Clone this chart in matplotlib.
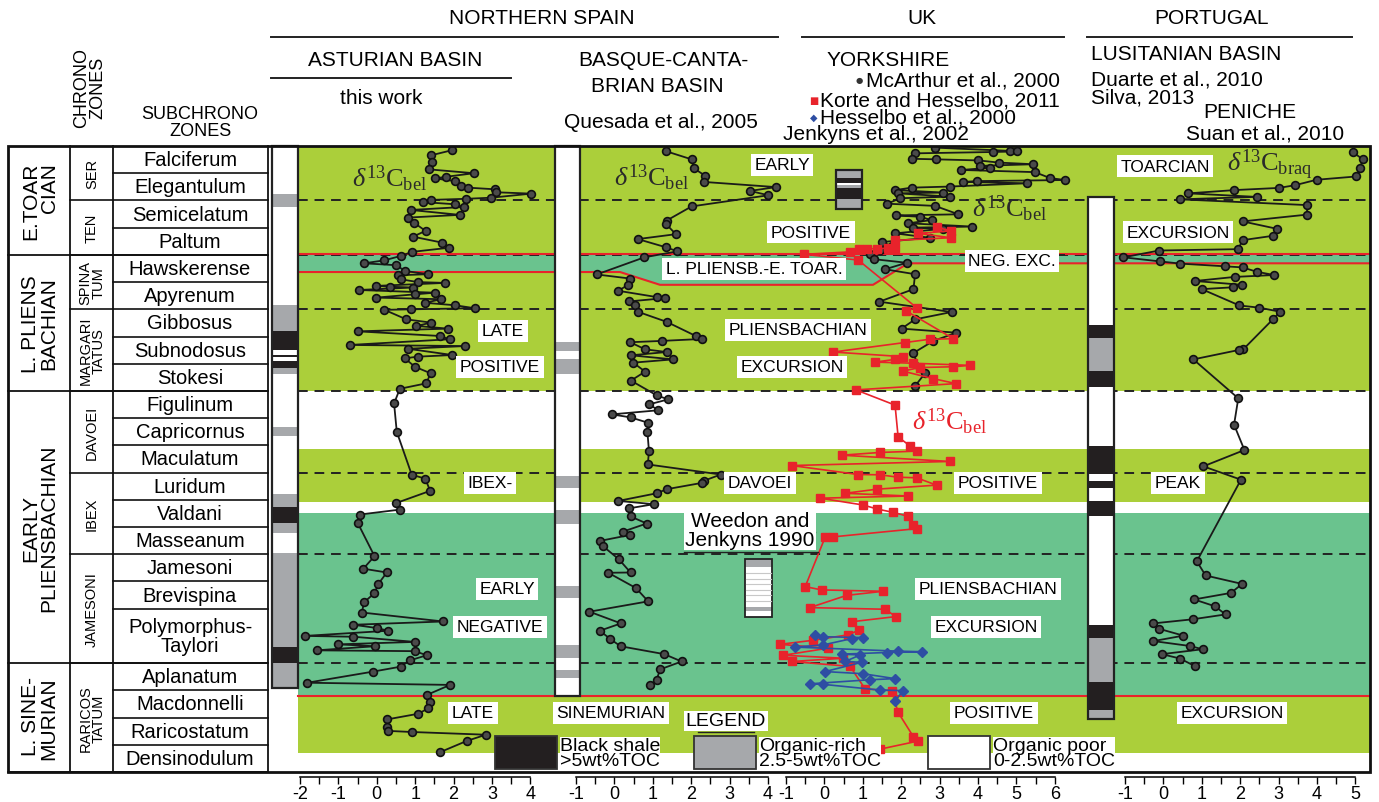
import numpy as np
import matplotlib
matplotlib.use('Agg')
import matplotlib.pyplot as plt
from matplotlib.patches import Rectangle, Polygon

plt.rcParams['axes.unicode_minus'] = False
plt.rcParams['mathtext.fontset'] = 'custom'
plt.rcParams['mathtext.rm'] = 'Liberation Serif'
plt.rcParams['mathtext.it'] = 'Liberation Serif:italic'

SANS = ['Liberation Sans', 'DejaVu Sans']
NARROW = ['Liberation Sans Narrow', 'Liberation Sans', 'DejaVu Sans']

# ---------------- biostratigraphy (zone units, top = 0) ----------------
zones = ['Falciferum', 'Elegantulum', 'Semicelatum', 'Paltum', 'Hawskerense', 'Apyrenum',
         'Gibbosus', 'Subnodosus', 'Stokesi', 'Figulinum', 'Capricornus', 'Maculatum',
         'Luridum', 'Valdani', 'Masseanum', 'Jamesoni', 'Brevispina', 'Polymorphus-\nTaylori',
         'Aplanatum', 'Macdonnelli', 'Raricostatum', 'Densinodulum']
zone_h = [1] * 17 + [2] + [1] * 4
subchrons = ['SER', 'TEN', 'SPINA\nTUM', 'MARGARI\nTATUS', 'DAVOEI', 'IBEX', 'JAMESONI', 'RARICOS\nTATUM']
subchron_h = [2, 2, 2, 3, 3, 3, 4, 4]
stages = ['E.TOAR\nCIAN', 'L. PLIENS\nBACHIAN', 'EARLY\nPLIENSBACHIAN', 'L. SINE-\nMURIAN']
stage_h = [4, 5, 10, 4]
dashed_levels = [2, 4, 6, 9, 12, 15, 19]

# ---------------- d13C series: level (zone units), value (permil) ----------------
ast_lvl = [0.15, 0.34, 0.59, 0.86, 1.00, 1.13, 1.19, 1.29, 1.47, 1.53, 1.59, 1.70, 1.75, 1.90, 1.94,
           1.98, 2.06, 2.14, 2.24, 2.35, 2.53, 2.63, 2.82, 3.12, 3.33, 3.55, 3.74, 3.89, 4.04, 4.20,
           4.31, 4.38, 4.59, 4.71, 4.75, 4.90, 5.00, 5.03, 5.14, 5.17, 5.20, 5.29, 5.39, 5.45, 5.57,
           5.63, 5.76, 5.85, 5.96, 6.00, 6.02, 6.37, 6.49, 6.61, 6.71, 6.81, 6.98, 7.10, 7.31, 7.35,
           7.45, 7.68, 7.74, 7.80, 8.11, 8.35, 8.72, 8.92, 9.46, 10.50, 12.08, 12.22, 12.67, 13.12,
           13.36, 13.54, 13.84, 15.07, 15.53, 15.67, 16.09, 16.43, 16.76, 17.14, 17.47, 17.59, 17.71,
           17.81, 18.00, 18.03, 18.22, 18.31, 18.38, 18.53, 18.56, 18.71, 18.90, 19.13, 19.31, 19.72,
           19.80, 20.17, 20.44, 20.66, 20.86, 21.07, 21.34, 21.49, 21.53, 21.63, 21.86, 22.27]
ast_val = [1.97, 1.42, 1.44, 1.37, 2.53, 1.81, 1.51, 2.03, 2.20, 2.37, 3.07, 3.11, 4.02, 2.98, 2.33,
           1.42, 1.20, 2.03, 2.26, 0.88, 2.16, 0.81, 0.97, 1.27, 0.94, 1.70, 1.87, 0.92, 0.62, 0.20,
           -0.33, 0.51, 0.73, 1.33, 0.55, 0.64, 1.07, 1.77, -0.01, 0.34, 0.94, -0.47, 1.51, 0.99, -0.01,
           1.68, 1.25, 2.03, 2.55, 0.90, 0.20, 0.77, 1.42, 1.03, 1.85, -0.49, 1.64, 1.90, -0.71, 2.29,
           0.81, 1.97, 1.07, 0.73, 0.99, 1.40, 1.29, 0.60, 0.45, 0.52, 0.91, 1.26, 1.39, 0.50,
           0.60, -0.44, -0.50, -0.06, -0.35, 0.26, 0.04, -0.06, -0.33, -0.39, 1.73, -0.61, 0.00,
           0.30, -1.87, -0.61, 0.99, -1.00, -0.05, -1.57, 0.99, 1.30, 0.86, 0.62, -0.09, -1.81,
           1.91, 1.30, 1.39, 1.34, 1.08, 0.26, 0.26, 0.30, 0.91, 2.84, 2.34, 1.65]

bas_lvl = [0.19, 0.49, 0.82, 1.09, 1.32, 1.51, 1.65, 1.81, 2.22, 2.74, 2.86, 3.24, 3.42, 3.72, 3.87,
           4.09, 4.72, 4.87, 5.10, 5.32, 5.55, 5.59, 5.71, 5.86, 6.09, 6.46, 6.98, 7.09, 7.16, 7.21,
           7.47, 7.57, 7.69, 7.84, 7.96, 8.29, 8.62, 9.16, 9.31, 9.49, 9.71, 9.86, 9.97, 10.17, 10.51,
           11.21, 11.70, 12.07, 12.30, 12.38, 12.61, 12.76, 13.04, 13.16, 13.31, 13.61, 13.87, 14.17,
           14.29, 14.51, 14.71, 15.19, 15.67, 15.68, 16.24, 16.73, 17.11, 17.54, 17.81, 18.11, 18.38,
           18.67, 18.94, 19.23, 19.61, 19.80]
bas_val = [1.34, 2.01, 2.07, 2.36, 2.33, 4.21, 3.53, 4.01, 2.01, 1.36, 1.34, 1.60, 0.61, 1.34, 1.64,
           0.78, -0.46, 0.41, 0.36, 0.10, 1.10, 1.32, 0.38, 0.54, 0.61, 1.36, 2.12, 2.27, 1.25, 0.41,
           0.80, 1.36, 0.43, 1.53, 0.49, 0.80, 0.43, 1.10, 1.40, 0.91, 1.14, -0.07, 0.42, 0.88, 0.86,
           0.90, 0.87, 2.77, 2.33, 2.27, 1.36, 1.10, 0.10, 1.03, 0.39, 0.42, 0.84, 0.22,
           0.41, -0.38, -0.29, 0.12, 0.42, -0.16, 0.56, 0.88, -0.65, 0.17, -0.38, -0.11, 0.16,
           1.30, 1.75, 1.19, 1.10, 0.93]

mca_lvl = [0.06, 0.18, 0.20, 0.22, 0.27, 0.47, 0.49, 0.53, 0.61, 0.67, 0.73, 0.80, 0.88, 0.96, 1.18,
           1.25, 1.29, 1.32, 1.37, 1.49, 1.53, 1.62, 1.71, 1.74, 1.86, 1.92, 2.12, 2.20, 2.51, 2.55,
           2.60, 2.72, 2.84, 2.96, 3.00, 3.04, 3.21, 3.37, 3.53, 3.67, 3.82, 3.98, 4.16, 4.29, 4.53,
           4.71, 5.26, 5.72, 6.10, 6.37, 6.71, 6.86, 7.16, 7.62, 8.14, 8.35, 8.82]
mca_val = [2.88, 4.83, 5.01, 4.40, 2.36, 2.27, 2.91, 4.01, 4.55, 5.44, 4.05, 4.31, 3.57, 5.48, 5.88,
           6.27, 3.97, 3.60, 5.27, 3.27, 2.27, 1.84, 3.10, 1.92, 3.27, 1.97, 1.64, 2.88, 3.49, 1.86,
           2.49, 2.79, 2.19, 3.84, 2.32, 3.10, 1.84, 2.75, 1.49, 1.75, 1.45, 1.19, 1.30, 2.14, 1.58,
           2.36, 2.32, 1.43, 3.31, 2.36, 2.01, 3.44, 2.84, 2.30, 2.49, 2.62, 2.36]

kor_lvl = [2.98, 3.12, 3.21, 3.37, 3.47, 3.74, 3.76, 3.77, 3.78, 3.80, 3.89, 3.98, 4.19, 5.94, 6.06,
           7.08, 7.10, 7.22, 7.57, 7.74, 7.84, 7.94, 7.98, 8.06, 8.11, 8.14, 8.27, 8.55, 8.73, 8.96,
           9.52, 10.69, 11.02, 11.21, 11.26, 11.36, 11.59, 11.74, 12.07, 12.08, 12.17, 12.19, 12.46,
           12.61, 12.76, 12.86, 12.94, 13.19, 13.34, 13.46, 13.61, 13.91, 14.06, 14.36, 14.37, 16.19,
           16.31, 16.36, 16.51, 16.96, 17.02, 17.29, 17.48, 17.78, 17.96, 18.16, 18.31, 18.45, 18.71,
           18.82, 18.94, 19.12, 19.95, 20.01, 20.81, 21.71, 21.86, 22.16]
kor_val = [2.92, 3.29, 2.45, 3.29, 1.84, 1.84, 1.66, 1.36, 1.10, 0.91, 0.67, -0.53, 0.88, 2.40, 2.13,
           3.36, 2.75, 2.10, 0.23, 2.05, 1.84, 1.32, 2.30, 3.79, 3.36, 2.49, 2.04, 2.84, 3.43, 0.82,
           1.84, 1.92, 2.23, 2.42, 1.45, 0.45, 3.27, -0.85, 0.88, 1.45, 1.92, 2.40, 2.92,
           1.36, 0.54, 2.19, -0.11, 1.01, 1.38, 1.79, 2.19, 2.32, 2.40, 0.23, 0.02, -0.50,
           -0.07, 1.53, 0.58, -0.38, 1.58, 1.86, 0.71, 0.91, 0.62, -0.29, -1.16, 0.10, -1.07,
           0.49, -0.85, 0.67, 1.06, 1.75, 1.92, 2.32, 2.45, 1.45]

hes_lvl = [17.96, 18.03, 18.06, 18.10, 18.33, 18.41, 18.56, 18.58, 18.61, 18.67, 18.70, 18.94, 18.97,
           19.31, 19.39, 19.57, 19.61, 19.76, 19.78, 19.99, 20.01, 20.40]
hes_val = [-0.24, -0.03, 1.01, 0.71, -0.03, -0.77, 1.92, 2.53, 1.62, 0.45, 0.93, 0.54, 0.97,
           0.02, 1.01, 1.84, 1.19, -0.38, -0.03, 1.45, 2.05, 1.84]

pen_lvl = [0.22, 0.49, 0.82, 1.12, 1.24, 1.44, 1.54, 1.62, 1.74, 1.87, 1.96, 2.17, 2.52, 2.77, 3.04,
           3.30, 3.46, 3.79, 3.84, 4.09, 4.24, 4.32, 4.42, 4.46, 4.62, 4.74, 4.81, 4.96, 5.10, 5.19,
           5.26, 5.86, 5.94, 6.09, 6.37, 7.47, 7.49, 7.84, 9.27, 10.24, 11.17, 11.77, 12.26, 15.26,
           15.78, 16.09, 16.42, 16.66, 16.91, 17.21, 17.39, 17.54, 17.74, 17.99, 18.19, 18.37, 18.49,
           18.67, 18.83, 19.11]
pen_val = [4.93, 5.19, 5.12, 5.02, 3.99, 3.43, 3.01, 1.85, 0.65, 2.43, 0.43, 3.73, 3.75, 2.06, 2.95,
           2.85, 2.06, 1.95, -0.11, -1.04, -0.09, 0.43, 1.60, 2.06, 2.43, 2.88, 1.86, 0.82, 2.05, 1.82,
           1.00, 1.98, 2.50, 3.04, 2.85, 2.08, 1.98, 0.78, 1.95, 1.84, 2.11, 1.04, 2.02, 0.87,
           1.10, 2.05, 1.76, 0.80, 1.34, 1.62, 0.76, -0.26, -0.11, 0.52, -0.26, 0.69, 1.02,
           -0.04, 0.43, 0.82]

# ---------------- lithology logs (top, bottom, facies) ----------------
ast_lith = [(0, 1.78, 'w'), (1.78, 2.24, 'g'), (2.24, 5.86, 'w'), (5.86, 6.79, 'g'), (6.79, 7.49, 'b'),
            (7.49, 7.68, 'w'), (7.68, 7.77, 'b'), (7.77, 7.9, 'w'), (7.9, 8.14, 'b'), (8.14, 8.37, 'g'),
            (8.37, 10.32, 'w'), (10.32, 10.66, 'g'), (10.66, 12.78, 'w'), (12.78, 13.26, 'g'),
            (13.26, 13.84, 'b'), (13.84, 14.22, 'g'), (14.22, 14.96, 'w'), (14.96, 18.4, 'g'),
            (18.4, 19.01, 'b'), (19.01, 19.91, 'g')]
bas_lith = [(0, 7.21, 'w'), (7.21, 7.54, 'g'), (7.54, 7.84, 'w'), (7.84, 8.37, 'g'), (8.37, 12.11, 'w'),
            (12.11, 12.56, 'g'), (12.56, 13.39, 'w'), (13.39, 13.87, 'g'), (13.87, 16.16, 'w'),
            (16.16, 16.61, 'g'), (16.61, 18.33, 'w'), (18.33, 18.82, 'g'), (18.82, 19.24, 'w'),
            (19.24, 19.54, 'g'), (19.54, 20.2, 'w')]
por_lith = [(1.86, 6.57, 'w'), (6.57, 7.06, 'b'), (7.06, 8.26, 'g'), (8.26, 8.86, 'b'), (8.86, 11.02, 'w'),
            (11.02, 12.04, 'b'), (12.04, 12.31, 'w'), (12.31, 12.56, 'b'), (12.56, 13.06, 'w'),
            (13.06, 13.61, 'b'), (13.61, 17.59, 'w'), (17.59, 18.07, 'b'), (18.07, 19.69, 'g'),
            (19.69, 20.71, 'b'), (20.71, 21.04, 'g')]
uk_lith = [(0.88, 1.16, 'g'), (1.16, 1.35, 'b'), (1.35, 1.42, 'w'), (1.42, 1.53, 'g'), (1.53, 1.94, 'b'),
           (1.94, 2.3, 'g')]
wee_lith = [(15.19, 15.45, 'g'), (15.45, 16.95, 'w'), (16.95, 17.1, 'g'), (17.1, 17.29, 'w')]

# ---------------- layout ----------------
W, H = 1379, 803
TOP, BOT = 147, 773
ZU = (BOT - TOP) / 23.0
PXU = 38.4            # pixels per permil
L, R = 298, 1370      # data area
LIME = '#abcf3a'
TEAL = '#6ac38e'
FAC = {'w': 'white', 'g': '#a6a8ab', 'b': '#231f20'}
RED = '#e8232b'
BLUE = '#2e4ea3'


def ypx(lv):
    return TOP + lv * ZU


fig = plt.figure(figsize=(W / 100, H / 100), dpi=100)
fig.patch.set_facecolor('white')

bg = fig.add_axes([0, 0, 1, 1], zorder=0)
bg.set_xlim(0, W)
bg.set_ylim(H, 0)
bg.axis('off')

# colour bands
bands = [(0, 9, LIME), (9, 11.15, 'white'), (11.15, 13.07, LIME), (13.07, 13.5, 'white'),
         (13.5, 20.2, TEAL), (20.2, 22.3, LIME)]
for a, b, c in bands:
    bg.add_patch(Rectangle((L, ypx(a)), R - L, ypx(b) - ypx(a), fc=c, ec='none'))
low_red = [(L, 4.63), (620, 4.63), (660, 5.1), (873, 5.1), (908, 4.31), (R, 4.31)]
teal_poly = [(L, ypx(4))] + [(x, ypx(v)) for x, v in low_red] + [(R, ypx(4))]
bg.add_patch(Polygon(teal_poly, closed=True, fc=TEAL, ec='none'))

for lv in dashed_levels:
    bg.plot([L, R], [ypx(lv), ypx(lv)], color='#222222', lw=1.4, ls=(0, (5, 3.5)))
bg.plot([L, R], [ypx(3.96), ypx(3.96)], color=RED, lw=1.5)
bg.plot([p[0] for p in low_red], [ypx(p[1]) for p in low_red], color=RED, lw=1.5)
bg.plot([L, R], [ypx(20.2), ypx(20.2)], color=RED, lw=1.5)


# ---------------- data panels ----------------
def data_ax(x0, z):
    ax = fig.add_axes([L / W, 1 - BOT / H, (R - L) / W, (BOT - TOP) / H], zorder=z)
    ax.set_xlim((L - x0) / PXU, (R - x0) / PXU)
    ax.set_ylim(23, 0)
    ax.axis('off')
    ax.patch.set_alpha(0)
    return ax


black_kw = dict(color='#1a1a1a', lw=1.3, marker='o', ms=5.6, mfc='#4a4a4a', mec='#111111', mew=1.2)
ax = data_ax(376.8, 2)
ax.plot(ast_val, ast_lvl, **black_kw)
ax = data_ax(614.4, 2)
ax.plot(bas_val, bas_lvl, **black_kw)
ax = data_ax(824.4, 3)
ax.plot(mca_val, mca_lvl, **black_kw)
ax.plot(kor_val, kor_lvl, color=RED, lw=1.2, marker='s', ms=5.2, mfc=RED, mec=RED)
ax.plot(hes_val, hes_lvl, color=BLUE, lw=1.2, marker='D', ms=5, mfc=BLUE, mec=BLUE)
ax = data_ax(1163.4, 2)
ax.plot(pen_val, pen_lvl, **black_kw)


def tick_ax(x0, vmin, vmax):
    l, r = x0 + vmin * PXU, x0 + vmax * PXU
    t = fig.add_axes([l / W, 1 - 778 / H, (r - l) / W, 0.0005], zorder=4)
    t.set_xlim(vmin, vmax)
    for s in ['top', 'left', 'right']:
        t.spines[s].set_visible(False)
    t.spines['bottom'].set_linewidth(1.1)
    t.set_yticks([])
    t.set_xticks(np.arange(vmin, vmax + 1))
    t.set_xticks(np.arange(vmin + 0.5, vmax, 1.0), minor=True)
    t.tick_params(axis='x', which='major', direction='out', length=5, width=1, pad=0.5, labelsize=13)
    t.tick_params(axis='x', which='minor', direction='out', length=5, width=1)
    for lab in t.get_xticklabels():
        lab.set_family(NARROW)
    t.patch.set_alpha(0)


tick_ax(376.8, -2, 4)
tick_ax(614.4, -1, 4)
tick_ax(824.4, -1, 6)
tick_ax(1163.4, -1, 5)

# ---------------- foreground: table, logs, labels ----------------
fg = fig.add_axes([0, 0, 1, 1], zorder=6)
fg.set_xlim(0, W)
fg.set_ylim(H, 0)
fg.axis('off')
fg.patch.set_alpha(0)


def log_column(x0, x1, segs, lw=1.6):
    for a, b, f in segs:
        fg.add_patch(Rectangle((x0, ypx(a)), x1 - x0, ypx(b) - ypx(a), fc=FAC[f], ec='none'))
    fg.add_patch(Rectangle((x0, ypx(segs[0][0])), x1 - x0, ypx(segs[-1][1]) - ypx(segs[0][0]),
                           fc='none', ec='#222222', lw=lw))


log_column(272, 298, ast_lith)
log_column(555, 580, bas_lith)
log_column(1088, 1114, por_lith)
log_column(836, 862, uk_lith)
log_column(745, 772, wee_lith, lw=1.3)
for lv in [15.7, 15.9, 16.1, 16.3, 16.5, 16.7]:
    fg.plot([746, 771], [ypx(lv), ypx(lv)], color='#c8c8c8', lw=0.8)

# chronozone table
fg.add_patch(Rectangle((8, TOP), R - 8, BOT - TOP, fc='none', ec='#111111', lw=2))
for x in [70, 113, 268]:
    fg.plot([x, x], [TOP, BOT], color='#111111', lw=1.3)
cum = np.concatenate([[0], np.cumsum(zone_h)])
for i, name in enumerate(zones):
    fg.plot([113, 268], [ypx(cum[i + 1])] * 2, color='#111111', lw=1.2)
    fg.text(190, ypx((cum[i] + cum[i + 1]) / 2), name, ha='center', va='center', fontsize=14.5,
            family=SANS, linespacing=1.0)
cum = np.concatenate([[0], np.cumsum(subchron_h)])
for i, name in enumerate(subchrons):
    fg.plot([70, 113], [ypx(cum[i + 1])] * 2, color='#111111', lw=1.2)
    fg.text(92, ypx((cum[i] + cum[i + 1]) / 2), name, ha='center', va='center', fontsize=10.5,
            family=SANS, rotation=90, linespacing=0.95)
cum = np.concatenate([[0], np.cumsum(stage_h)])
for i, name in enumerate(stages):
    fg.plot([8, 268], [ypx(cum[i + 1])] * 2, color='#111111', lw=1.3)
    al = 'right' if i in (0, 3) else 'center'
    fg.text(40, ypx((cum[i] + cum[i + 1]) / 2), name, ha='center', va='center', fontsize=15,
            family=SANS, rotation=90, multialignment=al, linespacing=0.95)

fg.text(90, 88, 'CHRONO\nZONES', rotation=90, ha='center', va='center', fontsize=13, family=SANS,
        linespacing=0.95)
fg.text(200, 123, 'SUBCHRONO\nZONES', ha='center', va='center', fontsize=13, family=SANS,
        linespacing=1.05)

# white label boxes
labels = [('LATE', 503, 332), ('POSITIVE', 500, 368), ('IBEX-', 490, 484), ('EARLY', 507, 590),
          ('NEGATIVE', 500, 628), ('LATE', 473, 714), ('SINEMURIAN', 611, 714), ('EARLY', 782, 166),
          ('POSITIVE', 811, 233), ('L. PLIENSB.-E. TOAR.', 754, 270), ('PLIENSBACHIAN', 798, 331),
          ('EXCURSION', 792, 368), ('DAVOEI', 760, 484), ('POSITIVE', 998, 484),
          ('PLIENSBACHIAN', 988, 590), ('EXCURSION', 986, 628), ('POSITIVE', 994, 714),
          ('TOARCIAN', 1165, 167), ('EXCURSION', 1178, 233), ('PEAK', 1178, 484),
          ('EXCURSION', 1232, 714), ('NEG. EXC.', 1012, 262)]
for s, x, y in labels:
    fg.text(x, y, s, ha='center', va='center', fontsize=12.5, family=SANS,
            bbox=dict(fc='white', ec='none', pad=2.5))
fg.plot([960, 1065], [ypx(4), ypx(4)], color='#222222', lw=1.4, ls=(0, (5, 3.5)))

fg.text(750, 531, 'Weedon and\nJenkyns 1990', ha='center', va='center', fontsize=15, family=SANS,
        linespacing=0.95, bbox=dict(fc='white', ec='none', pad=1))
fg.plot([686, 815], [533, 533], color='#222222', lw=1)
fg.plot([684, 818], [553, 553], color='#222222', lw=1)

# d13C labels
d13 = r'$\delta^{13}\mathrm{C}_{\mathrm{bel}}$'
fg.text(390, 179, d13, ha='center', va='center', fontsize=19, color='#2a2a2a')
fg.text(652, 178, d13, ha='center', va='center', fontsize=19, color='#2a2a2a')
fg.text(1010, 209, d13, ha='center', va='center', fontsize=19, color='#2a2a2a')
fg.text(950, 422, d13, ha='center', va='center', fontsize=19, color=RED)
fg.text(1270, 165, r'$\delta^{13}\mathrm{C}_{\mathrm{braq}}$', ha='center', va='center', fontsize=19,
        color='#2a2a2a')

# legend
fg.text(726, 722, 'LEGEND', ha='center', va='center', fontsize=14, family=SANS,
        bbox=dict(fc='white', ec='none', pad=1))
fg.plot([698, 754], [733, 733], color='#222222', lw=1)
for x0, f, txt in [(495, 'b', 'Black shale\n>5wt%TOC'), (694, 'g', 'Organic-rich\n2.5-5wt%TOC'),
                   (928, 'w', 'Organic poor\n0-2.5wt%TOC')]:
    fg.add_patch(Rectangle((x0, 737), 62, 33, fc=FAC[f], ec='#333333', lw=1.3))
    fg.text(x0 + 65, 754, txt, ha='left', va='center', fontsize=14, family=SANS, linespacing=0.9,
            bbox=dict(fc='white', ec='none', pad=0))

# header
hdr = dict(ha='center', va='center', family=NARROW, fontsize=15)
fg.text(542, 18, 'NORTHERN SPAIN', **hdr)
fg.text(922, 18, 'UK', **hdr)
fg.text(1212, 18, 'PORTUGAL', **hdr)
fg.plot([271, 778], [38, 38], color='#222222', lw=1.4)
fg.plot([802, 1064], [38, 38], color='#222222', lw=1.4)
fg.plot([1087, 1352], [38, 38], color='#222222', lw=1.4)
fg.text(395, 60, 'ASTURIAN BASIN', **hdr)
fg.plot([271, 511], [79, 79], color='#222222', lw=1.4)
fg.text(381, 98, 'this work', **hdr)
fg.text(663, 60, 'BASQUE-CANTA-', **hdr)
fg.text(657, 87, 'BRIAN BASIN', **hdr)
fg.text(661, 122, 'Quesada et al., 2005', **hdr)
fg.text(888, 60, 'YORKSHIRE', **hdr)
lft = dict(ha='left', va='center', family=NARROW, fontsize=15)
fg.text(866, 81, 'McArthur et al., 2000', **lft)
fg.text(820, 101, 'Korte and Hesselbo, 2011', **lft)
fg.text(820, 118, 'Hesselbo et al., 2000', **lft)
fg.text(783, 135, 'Jenkyns et al., 2002', **lft)
fg.text(859, 81, '\u25cf', ha='center', va='center', fontsize=6, color='#333333', family='DejaVu Sans')
fg.text(814, 101, '\u25a0', ha='center', va='center', fontsize=7, color=RED, family='DejaVu Sans')
fg.text(814, 118, '\u25c6', ha='center', va='center', fontsize=7, color=BLUE, family='DejaVu Sans')
fg.text(1091, 54, 'LUSITANIAN BASIN', **lft)
fg.text(1091, 80, 'Duarte et al., 2010', **lft)
fg.text(1091, 98, 'Silva, 2013', **lft)
fg.text(1250, 113, 'PENICHE', **hdr)
fg.text(1265, 134, 'Suan et al., 2010', **hdr)

fig.savefig('out.png', dpi=100, facecolor='white')
